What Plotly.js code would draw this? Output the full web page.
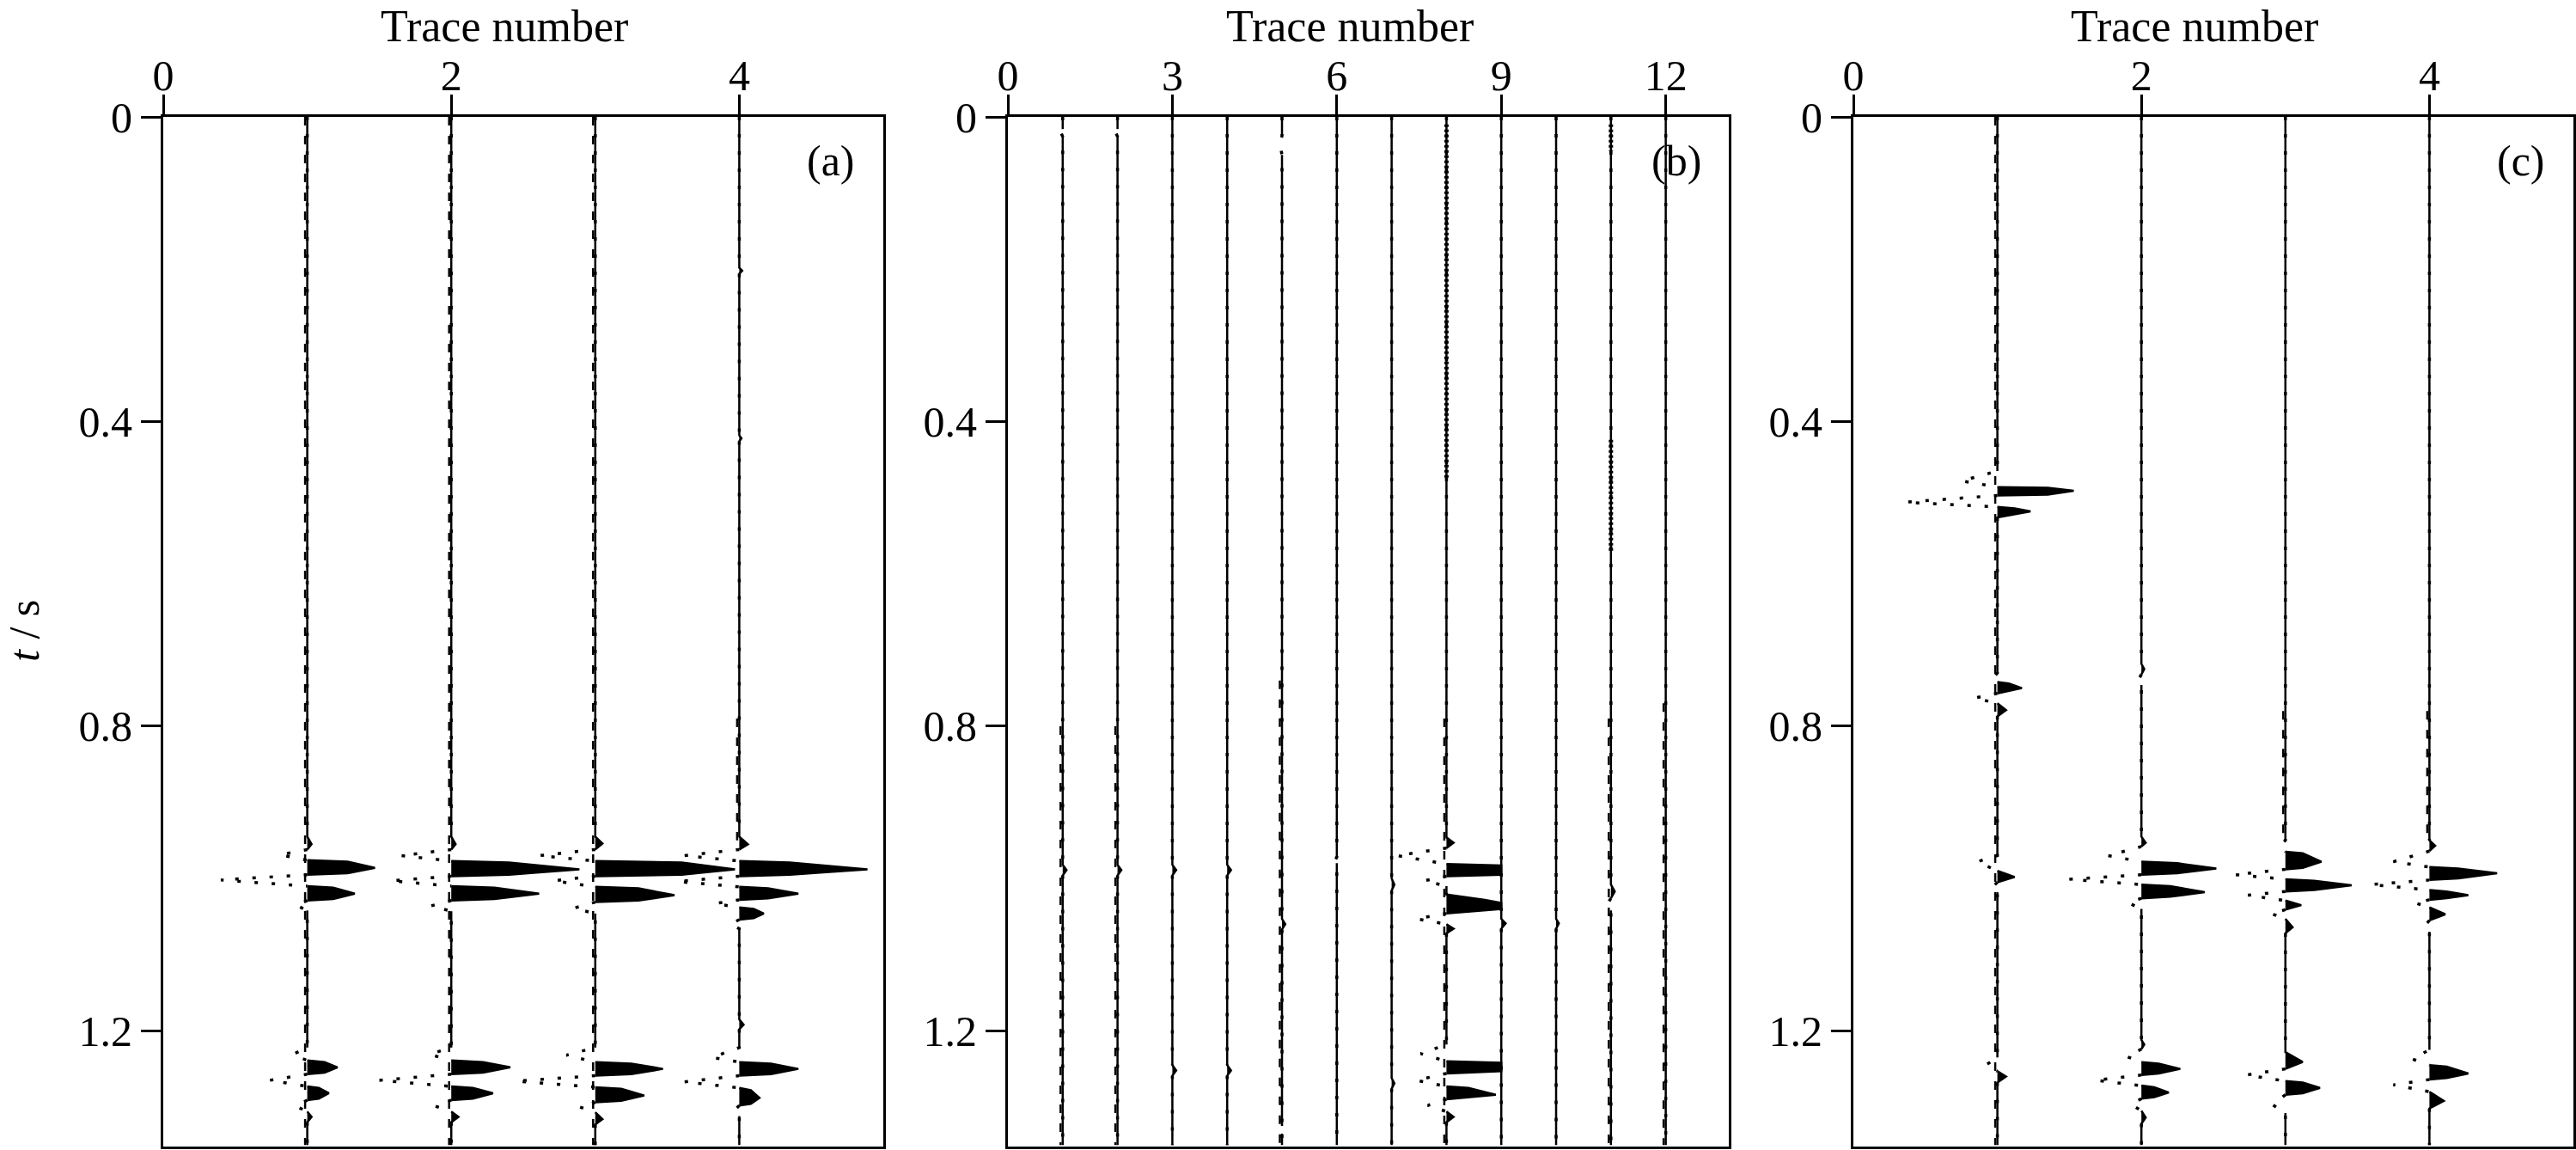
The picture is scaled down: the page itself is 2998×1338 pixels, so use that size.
<!DOCTYPE html>
<html>
<head>
<meta charset="utf-8">
<script src="https://cdn.plot.ly/plotly-3.0.1.min.js"></script>
<style>
  html, body { margin: 0; padding: 0; background: #fff; }
  #chart { width: 2998px; height: 1338px; }
</style>
</head>
<body>
<div id="chart"></div>
<script>
const W = 2998, H = 1338;
const T_MAX = 1.352;
const FONT = 'Liberation Serif, Times New Roman, serif';

const yTickVals = [0, 0.4, 0.8, 1.2];
const yTickText = ['0', '0.4', '0.8', '1.2'];

// keypoints of each trace: [time (s), deflection (trace units, + to the right)]
// panel (a)
const a1 = [[0,0],[0.945,0],[0.955,0.03],[0.962,0],[0.969,-0.19],[0.976,0],[0.978,0.28],[0.986,0.47],[0.993,0.28],[0.995,0],[1.002,-0.6],[1.010,0],
  [1.012,0.18],[1.020,0.33],[1.027,0.18],[1.029,0],[1.035,-0.08],[1.042,0],
  [1.222,0],[1.231,-0.1],[1.239,0],[1.241,0.12],[1.248,0.21],[1.255,0.12],[1.257,0],[1.265,-0.26],[1.273,0],[1.275,0.08],[1.282,0.15],[1.289,0.08],[1.291,0],
  [1.299,-0.08],[1.306,0],[1.313,0.03],[1.320,0],[1.35,0]];
const a2 = [[0,0],[0.945,0],[0.955,0.03],[0.962,0],[0.970,-0.35],[0.977,0],[0.979,0.4],[0.988,0.89],[0.995,0.4],[0.997,0],[1.003,-0.42],[1.010,0],
  [1.012,0.3],[1.020,0.61],[1.027,0.3],[1.029,0],[1.036,-0.14],[1.043,0],
  [1.222,0],[1.231,-0.15],[1.239,0],[1.241,0.22],[1.248,0.41],[1.255,0.22],[1.257,0],[1.265,-0.5],[1.273,0],[1.275,0.15],[1.282,0.29],[1.289,0.15],[1.291,0],
  [1.299,-0.11],[1.306,0],[1.313,0.05],[1.320,0],[1.35,0]];
const a3 = [[0,0],[0.945,0],[0.954,0.05],[0.962,0],[0.970,-0.39],[0.977,0],[0.979,0.6],[0.988,0.97],[0.995,0.6],[0.997,0],[1.003,-0.29],[1.011,0],
  [1.013,0.3],[1.022,0.55],[1.029,0.3],[1.031,0],[1.039,-0.15],[1.046,0],
  [1.222,0],[1.232,-0.2],[1.241,0],[1.243,0.25],[1.250,0.47],[1.257,0.25],[1.259,0],[1.266,-0.55],[1.274,0],[1.276,0.18],[1.285,0.34],[1.292,0.18],[1.294,0],
  [1.300,-0.11],[1.307,0],[1.316,0.05],[1.323,0],[1.35,0]];
const a4 = [[0,0],[0.198,0],[0.202,0.02],[0.206,0],[0.418,0],[0.422,0.015],[0.426,0],
  [0.945,0],[0.955,0.06],[0.962,0],[0.970,-0.38],[0.977,0],[0.979,0.35],[0.988,0.89],[0.995,0.35],[0.997,0],[1.004,-0.43],[1.011,0],
  [1.013,0.2],[1.020,0.41],[1.026,0.2],[1.028,0],[1.033,-0.17],[1.038,0],[1.040,0.1],[1.046,0.17],[1.052,0.1],[1.054,0],[1.060,-0.06],[1.066,0],
  [1.185,0],[1.192,0.03],[1.198,0],[1.222,0],[1.235,-0.19],[1.241,0],[1.243,0.22],[1.250,0.41],[1.257,0.22],[1.259,0],[1.267,-0.38],[1.275,0],
  [1.278,0.08],[1.288,0.14],[1.296,0.08],[1.298,0],[1.306,-0.04],[1.312,0],[1.35,0]];

// panel (b)
const b1 = [[0,0],[0.016,0],[0.021,-0.03],[0.026,0],[0.982,0],[0.989,0.07],[0.996,0],[1.35,0]];
const b2 = [[0,0],[0.016,0],[0.021,-0.03],[0.026,0],[0.982,0],[0.989,0.07],[0.996,0],[1.35,0]];
const b3 = [[0,0],[0.982,0],[0.989,0.07],[0.996,0],[1.245,0],[1.252,0.07],[1.259,0],[1.35,0]];
const b4 = [[0,0],[0.982,0],[0.989,0.07],[0.996,0],[1.245,0],[1.252,0.07],[1.259,0],[1.35,0]];
const b5 = [[0,0],[0.025,0],[0.035,-0.04],[0.05,0],[1.053,0],[1.06,0.06],[1.067,0],[1.325,0],[1.330,-0.04],[1.335,0],[1.35,0]];
const b6 = [[0,0],[0.972,0],[0.976,-0.03],[0.980,0],[1.35,0]];
const b7 = [[0,0],[1.0,0],[1.008,0.05],[1.016,0],[1.262,0],[1.269,0.05],[1.276,0],[1.35,0]];
const b8 = [[0,0],[0.946,0],[0.953,0.13],[0.960,0],[0.970,-0.9],[0.981,0],[0.983,1.0],[0.995,1.0],[0.997,0],[1.003,-0.4],[1.010,0],
  [1.021,0],[1.028,0.7],[1.032,1.0],[1.040,1.0],[1.046,0],[1.053,-0.55],[1.060,0],[1.066,0.13],[1.072,0],
  [1.218,0],[1.230,-0.47],[1.240,0],[1.242,1.0],[1.253,1.0],[1.256,0],[1.265,-0.55],[1.273,0],[1.275,0.4],[1.284,0.9],[1.290,0],
  [1.298,-0.34],[1.306,0],[1.313,0.13],[1.320,0],[1.35,0]];
const b9 = [[0,0],[1.053,0],[1.059,0.08],[1.066,0],[1.35,0]];
const b10 = [[0,0],[1.053,0],[1.059,0.05],[1.066,0],[1.35,0]];
const b11 = [[0,0],[1.008,0],[1.017,0.07],[1.026,0],[1.034,-0.07],[1.042,0],[1.35,0]];
const b12 = [[0,0],[1.35,0]];

// panel (c)
const c1 = [[0,0],[0.465,0],[0.478,-0.25],[0.486,0],[0.487,0.35],[0.491,0.53],[0.496,0.35],[0.497,0],[0.506,-0.64],[0.512,0],
  [0.514,0.12],[0.518,0.23],[0.524,0.06],[0.526,0],
  [0.730,0],[0.737,-0.03],[0.742,0],[0.744,0.08],[0.750,0.17],[0.756,0.04],[0.757,0],[0.763,-0.16],[0.770,0],[0.779,0.06],[0.787,0],
  [0.970,0],[0.978,-0.14],[0.990,0],[0.998,0.12],[1.005,0],[1.012,-0.04],[1.018,0],
  [1.235,0],[1.245,-0.08],[1.253,0],[1.260,0.06],[1.268,0],[1.35,0]];
const c2 = [[0,0],[0.718,0],[0.725,0.02],[0.732,0],[0.739,-0.02],[0.746,0],
  [0.945,0],[0.953,0.03],[0.958,0],[0.970,-0.23],[0.978,0],[0.980,0.25],[0.987,0.52],[0.993,0.25],[0.995,0],[1.001,-0.5],[1.008,0],
  [1.010,0.2],[1.018,0.44],[1.024,0.2],[1.026,0],[1.032,-0.09],[1.040,0],
  [1.212,0],[1.218,0.02],[1.224,0],[1.234,-0.1],[1.241,0],[1.243,0.12],[1.250,0.27],[1.256,0.12],[1.258,0],[1.265,-0.32],[1.272,0],
  [1.274,0.09],[1.281,0.19],[1.287,0.09],[1.289,0],[1.297,-0.07],[1.305,0],[1.314,0.03],[1.322,0],[1.35,0]];
const c3 = [[0,0],[0.950,0],[0.957,-0.04],[0.965,0],[0.967,0.12],[0.978,0.25],[0.986,0.12],[0.988,0],[0.995,-0.35],[1.001,0],
  [1.003,0.2],[1.009,0.46],[1.015,0.2],[1.017,0],[1.022,-0.26],[1.029,0],[1.035,0.11],[1.041,0],[1.046,-0.1],[1.053,0],[1.064,0.05],[1.072,0],
  [1.228,0],[1.241,0.12],[1.250,0],[1.258,-0.27],[1.266,0],[1.268,0.12],[1.275,0.24],[1.282,0.12],[1.284,0],[1.297,-0.09],[1.308,0],[1.35,0]];
const c4 = [[0,0],[0.950,0],[0.957,0.04],[0.964,0],[0.978,-0.25],[0.985,0],[0.987,0.2],[0.993,0.47],[1.000,0.2],[1.002,0],[1.008,-0.41],[1.015,0],
  [1.017,0.12],[1.022,0.27],[1.026,0.12],[1.028,0],[1.032,-0.1],[1.038,0],[1.047,0.11],[1.055,0],[1.064,-0.04],[1.070,0],
  [1.225,0],[1.237,-0.12],[1.245,0],[1.247,0.12],[1.256,0.27],[1.262,0.12],[1.264,0],[1.271,-0.25],[1.280,0],[1.292,0.1],[1.302,0],[1.35,0]];

// time spans where a trace looks jagged, and where it is drawn as a dotted band
const aNoise = [[[0, 1.35]], [[0, 1.35]], [[0, 1.35]], [[0.79, 0.95]]];
const bNoise = [[[0.80, 1.35]], [[0.80, 1.35]], [], [], [[0.74, 1.35]], [], [], [[0.79, 1.35]], [], [], [[0.79, 1.35]], [[0.77, 1.35]]];
const cNoise = [[[0, 1.35]], [], [[0.78, 0.95]], [[0.78, 0.95]]];
const bBands = [[], [], [], [], [], [], [], [[0.01, 0.475]], [], [], [[0.01, 0.045], [0.424, 0.57]], []];

const panels = [
  { n: '', range: [0, 5], ticks: [0, 2, 4], px: [190, 1028], pos: [1, 2, 3, 4],
    traces: [a1, a2, a3, a4], noise: aNoise, bands: [[], [], [], []], label: '(a)' },
  { n: '2', range: [0, 13.15], ticks: [0, 3, 6, 9, 12], px: [1173, 2012], pos: [1, 2, 3, 4, 5, 6, 7, 8, 9, 10, 11, 12],
    traces: [b1, b2, b3, b4, b5, b6, b7, b8, b9, b10, b11, b12], noise: bNoise, bands: bBands, label: '(b)' },
  { n: '3', range: [0, 5], ticks: [0, 2, 4], px: [2157, 2995], pos: [1, 2, 3, 4],
    traces: [c1, c2, c3, c4], noise: cNoise, bands: [[], [], [], []], label: '(c)' }
];

const data = [];
const layout = {
  width: W, height: H,
  margin: { l: 0, r: 0, t: 0, b: 0 },
  paper_bgcolor: '#fff', plot_bgcolor: '#fff',
  showlegend: false,
  hovermode: false,
  font: { family: FONT, size: 50, color: '#000' },
  annotations: []
};

const yDomain = [1 - 1334 / H, 1 - 136 / H];

panels.forEach(p => {
  const xa = 'x' + p.n, ya = 'y' + p.n;
  const unitPx = (p.px[1] - p.px[0]) / (p.range[1] - p.range[0]);
  const jitter = 2.5 / unitPx;

  p.traces.forEach((pts, k) => {
    const pos = p.pos[k];
    const tt = pts.map(q => q[0]);

    // variable area: positive lobes filled black
    data.push({
      x: [pos, ...pts.map(q => pos + Math.max(0, q[1])), pos],
      y: [tt[0], ...tt, tt[tt.length - 1]],
      xaxis: xa, yaxis: ya, mode: 'lines', fill: 'toself',
      fillcolor: '#000', line: { color: 'rgba(0,0,0,0)', width: 0 }, hoverinfo: 'skip'
    });
    // wiggle, positive side solid
    data.push({
      x: pts.map(q => q[1] >= 0 ? pos + q[1] : null), y: tt,
      xaxis: xa, yaxis: ya, mode: 'lines', connectgaps: false,
      line: { color: '#000', width: 2.5 }, hoverinfo: 'skip'
    });
    // wiggle, negative side as sparse dots
    data.push({
      x: pts.map(q => q[1] <= 0 ? pos + q[1] : null), y: tt,
      xaxis: xa, yaxis: ya, mode: 'lines', connectgaps: false,
      line: { color: '#000', width: 3.5, dash: '4px,16px' }, hoverinfo: 'skip'
    });

    p.noise[k].forEach(span => {
      data.push({
        x: [pos - jitter, pos - jitter], y: span,
        xaxis: xa, yaxis: ya, mode: 'lines',
        line: { color: '#000', width: 2.5, dash: '10px,12px' }, hoverinfo: 'skip'
      });
    });
    p.bands[k].forEach(span => {
      data.push({
        x: [pos, pos], y: span,
        xaxis: xa, yaxis: ya, mode: 'lines',
        line: { color: '#000', width: 5, dash: '3px,3px' }, hoverinfo: 'skip'
      });
    });
  });

  layout['xaxis' + p.n] = {
    domain: [p.px[0] / W, p.px[1] / W], anchor: ya, side: 'top',
    range: p.range, tickvals: p.ticks, ticktext: p.ticks.map(String),
    showgrid: false, zeroline: false, showline: true, mirror: true,
    linecolor: '#000', linewidth: 3,
    ticks: 'outside', ticklen: 23, tickwidth: 3, tickcolor: '#000',
    ticklabelstandoff: -15,
    tickfont: { family: FONT, size: 50, color: '#000' }
  };
  layout['yaxis' + p.n] = {
    domain: yDomain, anchor: xa,
    range: [T_MAX, 0], tickvals: yTickVals, ticktext: yTickText,
    showgrid: false, zeroline: false, showline: true, mirror: true,
    linecolor: '#000', linewidth: 3,
    ticks: 'outside', ticklen: 23, tickwidth: 3, tickcolor: '#000',
    tickfont: { family: FONT, size: 50, color: '#000' }
  };

  const centre = (p.px[0] + p.px[1]) / 2;
  layout.annotations.push({
    text: 'Trace number', xref: 'paper', yref: 'paper',
    x: (centre - 22) / W, y: 1, xanchor: 'center', yanchor: 'top',
    showarrow: false, font: { family: FONT, size: 52, color: '#000' }
  });
  layout.annotations.push({
    text: p.label, xref: 'paper', yref: 'paper',
    x: (p.px[1] - 61) / W, y: 1 - 187 / H, xanchor: 'center', yanchor: 'middle',
    showarrow: false, font: { family: FONT, size: 50, color: '#000' }
  });
});

layout.annotations.push({
  text: '<i>t</i> / s', xref: 'paper', yref: 'paper',
  x: 28 / W, y: 1 - 734 / H, xanchor: 'center', yanchor: 'middle', textangle: -90,
  showarrow: false, font: { family: FONT, size: 50, color: '#000' }
});

Plotly.newPlot('chart', data, layout, { displayModeBar: false, staticPlot: true });
</script>
</body>
</html>
